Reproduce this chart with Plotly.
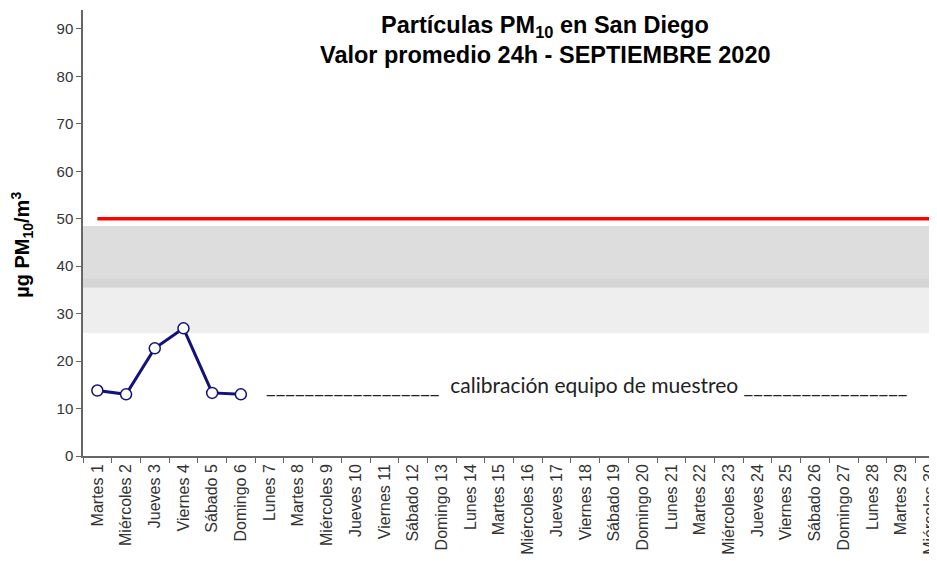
import plotly.graph_objects as go

dias = ["Martes 1", "Miércoles 2", "Jueves 3", "Viernes 4", "Sábado 5", "Domingo 6",
        "Lunes 7", "Martes 8", "Miércoles 9", "Jueves 10", "Viernes 11", "Sábado 12",
        "Domingo 13", "Lunes 14", "Martes 15", "Miércoles 16", "Jueves 17", "Viernes 18",
        "Sábado 19", "Domingo 20", "Lunes 21", "Martes 22", "Miércoles 23", "Jueves 24",
        "Viernes 25", "Sábado 26", "Domingo 27", "Lunes 28", "Martes 29", "Miércoles 30"]
pm10 = [13.8, 13.0, 22.7, 26.9, 13.3, 13.0]
norma = 50
banda_clara = (25.9, 35.5)
banda_oscura = (35.5, 48.5)
franja = (35.5, 37.4)
yticks = [0, 10, 20, 30, 40, 50, 60, 70, 80, 90]
nota = "calibración equipo de muestreo"
titulo1 = "Partículas PM<sub>10</sub> en San Diego"
titulo2 = "Valor promedio 24h - SEPTIEMBRE 2020"
ytitulo = "µg PM<sub>10</sub>/m<sup>3</sup>"

fig = go.Figure()

# grey reference bands
for (y0, y1), col in [(banda_clara, "#EEEEEE"), (banda_oscura, "#DDDDDD"), (franja, "#D5D5D5")]:
    fig.add_shape(type="rect", xref="paper", yref="y", x0=0, x1=1, y0=y0, y1=y1,
                  fillcolor=col, line_width=0, layer="below")

fig.add_trace(go.Scatter(x=[dias[0], dias[-1]], y=[norma, norma], mode="lines",
                         line=dict(color="#FF0000", width=3.5), hoverinfo="skip"))
fig.add_trace(go.Scatter(x=dias[:len(pm10)], y=pm10, mode="lines+markers",
                         line=dict(color="#12127A", width=3),
                         marker=dict(symbol="circle", size=11, color="white",
                                     line=dict(color="#12127A", width=1.5))))

fig.add_annotation(x=dias[17], y=15.0, xref="x", yref="y", xshift=1,
                   text="_" * 18 + "  " + nota + " " + "_" * 17,
                   showarrow=False, font=dict(family="Lato", size=21, color="#222222"))

# titles
for txt, yy in [(titulo1, 0.962), (titulo2, 0.898)]:
    fig.add_annotation(text="<b>" + txt + "</b>", x=0.5365, y=yy, xref="paper", yref="paper",
                       showarrow=False, xanchor="center", yanchor="middle",
                       font=dict(family="Liberation Sans", size=23.5, color="black"))
fig.add_annotation(text="<b>" + ytitulo + "</b>", x=-0.071, y=0.473, xref="paper", yref="paper",
                   showarrow=False, textangle=-90, xanchor="center", yanchor="middle",
                   font=dict(family="Liberation Sans", size=20, color="black"))

fig.update_layout(
    width=937, height=561,
    margin=dict(l=75, r=0, t=2, b=113),
    plot_bgcolor="white", paper_bgcolor="white",
    showlegend=False,
    font=dict(family="Liberation Sans", color="#333333"),
    xaxis=dict(type="category", categoryorder="array", categoryarray=dias,
               range=[-0.5, 29.53], tickangle=-90, tickson="boundaries",
               ticks="outside", ticklen=5, tickcolor="#666666", automargin=False,
               showline=True, linecolor="#666666", linewidth=1.5,
               showgrid=False, tickfont=dict(size=16, color="#333333")),
    yaxis=dict(range=[0, 94], tickvals=yticks, ticks="outside", ticklen=5,
               tickcolor="#666666", showline=True, linecolor="#666666", linewidth=1.5,
               showgrid=False, zeroline=False, automargin=False,
               tickfont=dict(size=15, color="#333333")),
)

fig.write_html("out.html")
